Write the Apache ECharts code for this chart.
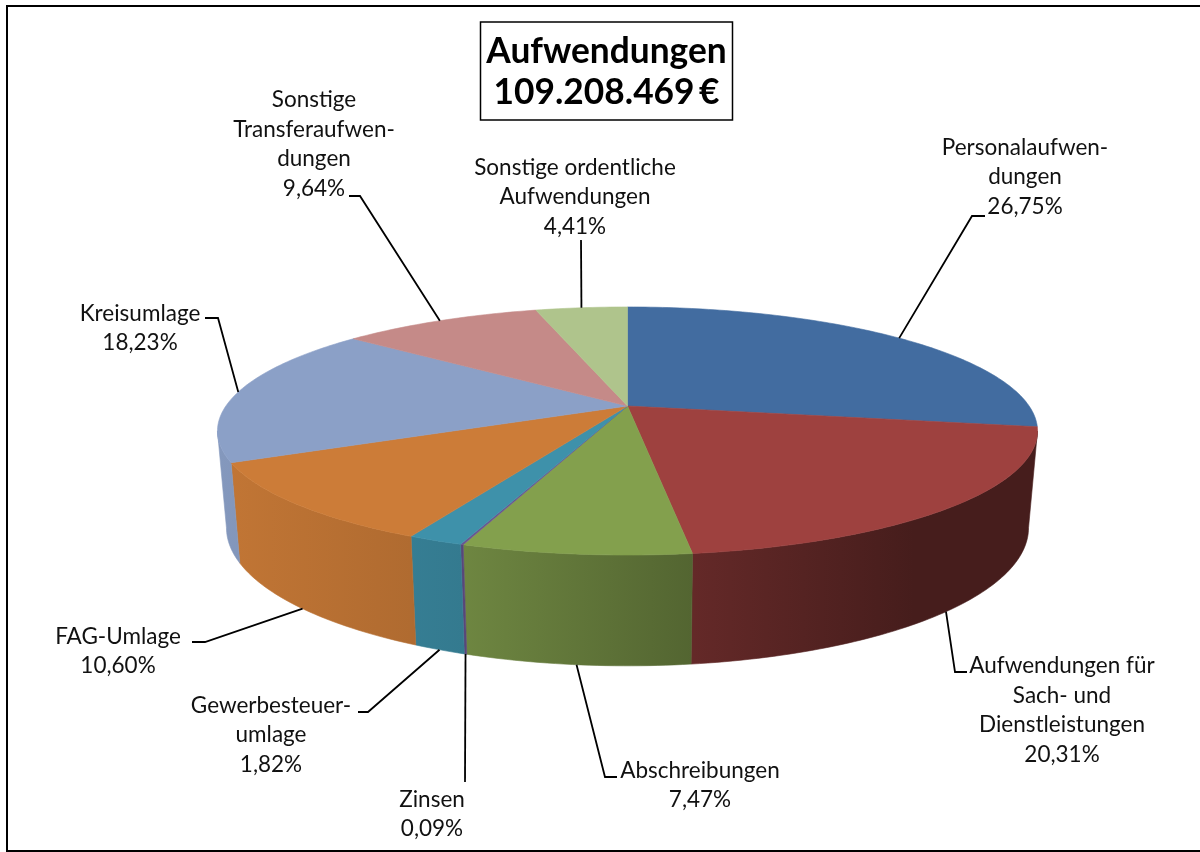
<!DOCTYPE html>
<html>
<head>
<meta charset="utf-8">
<title>Aufwendungen</title>
<script src="https://cdn.jsdelivr.net/npm/echarts@6/dist/echarts.min.js"></script>
<style>
html, body { margin: 0; padding: 0; background: #fff; }
#chart { width: 1200px; height: 852px; }
</style>
</head>
<body>
<div id="chart"></div>
<script>
var titleText = 'Aufwendungen\n109.208.469\u2009€';
var sliceNames = [
    'Personalaufwen-\ndungen',
    'Aufwendungen für\nSach- und\nDienstleistungen',
    'Abschreibungen',
    'Zinsen',
    'Gewerbesteuer-\numlage',
    'FAG-Umlage',
    'Kreisumlage',
    'Sonstige\nTransferaufwen-\ndungen',
    'Sonstige ordentliche\nAufwendungen'
];
var percentLabels = ['26,75%', '20,31%', '7,47%', '0,09%', '1,82%', '10,60%', '18,23%', '9,64%', '4,41%'];
// the printed labels only add up to 99,32%, in the picture the blue slice is drawn larger than its label
var sliceShares = [27.8, 20.31, 7.47, 0.09, 1.82, 10.60, 18.23, 9.64, 4.41];
var sliceColors = ['#426CA0', '#9E413F', '#83A04D', '#6A5590', '#3E91AA', '#CC7C38', '#8BA0C7', '#C58A88', '#AFC48C'];

// projection of the tilted disc, fitted to the picture
var topPlane = { cx: 627.5, cy: 406, a: 119, b: 401.6, k: 0.2016 };
var bottomPlane = { cx: 627.5, cy: 500, a: 132.4, b: 392.8, k: 0.2016 };
var pieLeft = 218, pieRight = 1037;
// the wall is only visible between the two points where the rim turns back
var wallFrom = Math.acos(-topPlane.k) * 180 / Math.PI;
var wallTo = 360 - wallFrom;

// text centre and elbows of the leader line for each slice
var labelPlaces = [
    { x: 1025, y: 177, elbow: [[972, 216], [985, 216]], rim: 'top' },
    { x: 1062, y: 710, elbow: [[955, 672], [967, 672]], rim: 'bottom' },
    { x: 700, y: 785, elbow: [[605, 777], [617, 777]], rim: 'bottom' },
    { x: 432, y: 814, elbow: [[465, 782]], rim: 'bottom' },
    { x: 271, y: 735, elbow: [[368, 712], [358, 712]], rim: 'bottom' },
    { x: 118, y: 651, elbow: [[205, 642], [192, 642]], rim: 'bottom' },
    { x: 140, y: 328, elbow: [[218, 318], [205, 318]], rim: 'top' },
    { x: 314, y: 144, elbow: [[360, 196], [349, 196]], rim: 'top' },
    { x: 575, y: 197, elbow: [[581, 240]], rim: 'top' }
];

var shareTotal = 0;
var startAngles = [];
for (var i = 0; i < sliceShares.length; i++) {
    startAngles.push(shareTotal);
    shareTotal += sliceShares[i];
}
startAngles = startAngles.map(function (v) { return v / shareTotal * 360; });

function project(plane, deg) {
    var rad = deg * Math.PI / 180;
    var x = Math.sin(rad), y = -Math.cos(rad);
    var d = 1 - plane.k * y;
    return [plane.cx + plane.b * x / d, plane.cy + plane.a * y / d];
}

function rimPoints(plane, from, to) {
    var points = [];
    var steps = Math.max(2, Math.ceil(to - from));
    for (var s = 0; s <= steps; s++) {
        points.push(project(plane, from + (to - from) * s / steps));
    }
    return points;
}

function shade(hex, f) {
    var n = parseInt(hex.slice(1), 16);
    return 'rgb(' + Math.round((n >> 16 & 255) * f) + ',' + Math.round((n >> 8 & 255) * f) + ',' + Math.round((n & 255) * f) + ')';
}

function wallFill(hex) {
    return new echarts.graphic.LinearGradient(pieLeft, 0, pieRight, 0, [
        { offset: 0, color: shade(hex, 0.95) },
        { offset: 0.3, color: shade(hex, 0.84) },
        { offset: 0.58, color: shade(hex, 0.63) },
        { offset: 0.85, color: shade(hex, 0.44) },
        { offset: 1, color: shade(hex, 0.44) }
    ], true);
}

function renderSlice(params, api) {
    var idx = params.dataIndex;
    var from = startAngles[idx];
    var to = from + api.value(0) / shareTotal * 360;
    var mid = (from + to) / 2;
    var color = sliceColors[idx];
    var place = labelPlaces[idx];
    var anchor = project(place.rim === 'top' ? topPlane : bottomPlane, mid);
    var children = [];

    var wallStart = Math.max(from, wallFrom), wallEnd = Math.min(to, wallTo);
    if (wallEnd > wallStart) {
        var wallStyle = wallFill(color);
        children.push({
            type: 'polygon',
            z2: 10,
            shape: { points: rimPoints(topPlane, wallStart, wallEnd).concat(rimPoints(bottomPlane, wallStart, wallEnd).reverse()) },
            style: { fill: wallStyle, stroke: wallStyle, lineWidth: 0.6 }
        });
    }
    children.push({
        type: 'polygon',
        z2: 20,
        shape: { points: [[topPlane.cx, topPlane.cy]].concat(rimPoints(topPlane, from, to)) },
        style: { fill: color, stroke: color, lineWidth: 0.6 }
    });
    children.push({
        type: 'polyline',
        z2: 30,
        shape: { points: [anchor].concat(place.elbow) },
        style: { fill: null, stroke: '#000', lineWidth: 1.8 }
    });
    children.push({
        type: 'text',
        z2: 31,
        x: place.x,
        y: place.y,
        style: {
            text: sliceNames[idx] + '\n' + percentLabels[idx],
            fill: '#111',
            font: '22.5px Lato',
            lineHeight: 29.5,
            align: 'center',
            verticalAlign: 'middle'
        }
    });
    return { type: 'group', children: children };
}

var chart = echarts.init(document.getElementById('chart'));
chart.setOption({
    animation: false,
    backgroundColor: '#fff',
    title: {
        text: titleText,
        left: 600,
        top: 22,
        textAlign: 'center',
        padding: [9, 6.5, 7, 6.5],
        borderColor: '#000',
        borderWidth: 1.5,
        textStyle: {
            fontFamily: 'Lato',
            fontWeight: 'bold',
            fontSize: 35.3,
            lineHeight: 41,
            color: '#000'
        }
    },
    graphic: [{
        type: 'rect',
        silent: true,
        shape: { x: 7, y: 6, width: 1210, height: 845 },
        style: { fill: null, stroke: '#000', lineWidth: 2 }
    }],
    series: [{
        type: 'custom',
        coordinateSystem: 'none',
        silent: true,
        clip: false,
        renderItem: renderSlice,
        data: sliceShares.map(function (v) { return [v]; })
    }]
});
</script>
</body>
</html>
